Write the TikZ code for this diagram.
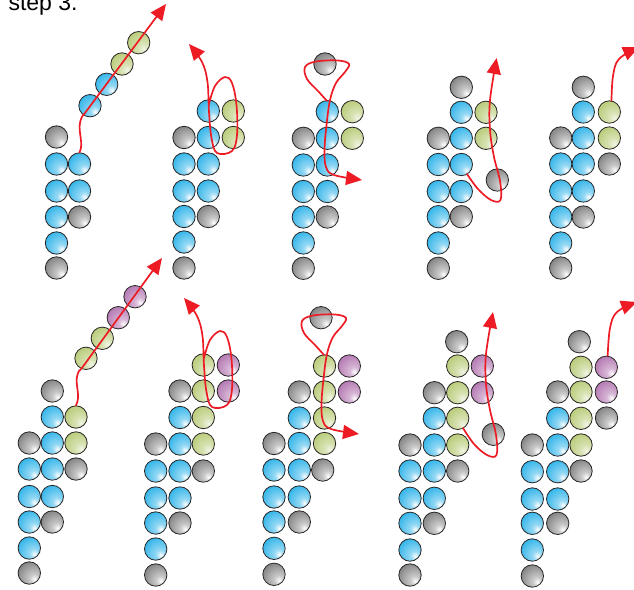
\documentclass[tikz,border=0pt]{standalone}
\usepackage{fontspec}
\setmainfont{Liberation Sans}
\usetikzlibrary{arrows.meta}
\definecolor{bBlue}{HTML}{12A9E6}
\definecolor{bGray}{HTML}{4A4A4A}
\definecolor{bGreen}{HTML}{A6BE55}
\definecolor{bPurple}{HTML}{9A4A98}
\definecolor{bOut}{HTML}{2A2626}
\definecolor{tRed}{HTML}{ED1C24}
\pgfdeclareradialshading{beadblue}{\pgfpoint{12bp}{-14bp}}{color(0bp)=(white); color(10bp)=(white!55!bBlue); color(38bp)=(bBlue!90!white); color(60bp)=(bBlue); color(80bp)=(bBlue)}
\pgfdeclareradialshading{beadgray}{\pgfpoint{12bp}{-14bp}}{color(0bp)=(white); color(10bp)=(white!70!bGray); color(40bp)=(bGray!75!white); color(62bp)=(bGray); color(80bp)=(bGray)}
\pgfdeclareradialshading{beadgreen}{\pgfpoint{12bp}{-14bp}}{color(0bp)=(white!85!bGreen); color(12bp)=(white!55!bGreen); color(40bp)=(bGreen!85!white); color(62bp)=(bGreen); color(80bp)=(bGreen)}
\pgfdeclareradialshading{beadpurple}{\pgfpoint{12bp}{-14bp}}{color(0bp)=(white); color(10bp)=(white!60!bPurple); color(40bp)=(bPurple!80!white); color(62bp)=(bPurple); color(80bp)=(bPurple)}
\tikzset{
  bead/.style={circle, minimum size=22.4pt, inner sep=0pt, draw=bOut, line width=0.8pt, shade},
  bb/.style={bead, shading=beadblue},
  bg/.style={bead, shading=beadgray},
  bn/.style={bead, shading=beadgreen},
  bp/.style={bead, shading=beadpurple},
  thread/.style={draw=tRed, line width=1.7pt, line cap=round, line join=round, -{Triangle[length=16pt,width=14pt]}},
}
\begin{document}
\begin{tikzpicture}[x=1pt,y=-1pt]
\useasboundingbox (0,0) rectangle (634,589);
\node[anchor=base west, font=\fontsize{23}{23}\selectfont] (title) at (5,10.5) {step 3.};

% ---------- panel 1 ----------
\node[bg] (a1) at (56.5,137) {};
\node[bb] (a2) at (56.5,164) {};
\node[bb] (a3) at (79.5,164) {};
\node[bb] (a4) at (56.5,191) {};
\node[bb] (a5) at (79.5,191) {};
\node[bb] (a6) at (56.5,217) {};
\node[bg] (a7) at (79.5,217) {};
\node[bb] (a8) at (56.5,243) {};
\node[bg] (a9) at (56.5,268) {};
\node[bb] (a10) at (90,105.7) {};
\node[bb] (a11) at (106.7,84.3) {};
\node[bn] (a12) at (122,64) {};
\node[bn] (a13) at (138.7,42.7) {};
\draw[thread] (a3.north) .. controls (84,144) and (78,132) .. (80,123) .. controls (81,118) and (82,116) .. (85,113) -- (166,4);

% ---------- panel 2 ----------
\node[bb] (b1) at (208.3,111) {};
\node[bn] (b2) at (233.3,111) {};
\node[bg] (b3) at (184,137.5) {};
\node[bb] (b4) at (208.3,137.5) {};
\node[bn] (b5) at (233.3,137.5) {};
\node[bb] (b6) at (184,164) {};
\node[bb] (b7) at (208.3,164) {};
\node[bb] (b8) at (184,191) {};
\node[bb] (b9) at (208.3,191) {};
\node[bb] (b10) at (184,216.5) {};
\node[bg] (b11) at (208.3,216.5) {};
\node[bb] (b12) at (184,242) {};
\node[bg] (b13) at (184,268) {};
\draw[thread] plot[smooth, tension=0.6] coordinates {(209,104) (215,86) (225,77) (232,83) (236.5,105) (237,135) (232,151) (217,153) (211.5,138) (209,112) (207.5,82) (202,62) (189,44)};

% ---------- panel 3 ----------
\node[bg] (c1) at (325,64) {};
\node[bb] (c2) at (327.3,111.7) {};
\node[bn] (c3) at (352.3,111.7) {};
\node[bg] (c4) at (303.3,138.3) {};
\node[bb] (c5) at (327.3,138.3) {};
\node[bn] (c6) at (352.3,138.3) {};
\node[bb] (c7) at (303.3,165) {};
\node[bb] (c8) at (327.3,165) {};
\node[bb] (c9) at (303.3,191.5) {};
\node[bb] (c10) at (327.3,191.5) {};
\node[bb] (c11) at (303.3,217) {};
\node[bg] (c12) at (327.3,217) {};
\node[bb] (c13) at (303.3,243) {};
\node[bg] (c14) at (303.3,268.3) {};
\draw[thread] plot[smooth, tension=0.6] coordinates {(327,101) (318,91) (307,79) (305,67) (316,61.5) (338,60.5) (349,64) (345,72) (336,83) (330,100) (326.5,125) (324.5,150) (326,167) (334,175) (362,180)};

% ---------- panel 4 ----------
\node[bg] (d1) at (461.3,87.3) {};
\node[bb] (d2) at (461.3,112.3) {};
\node[bn] (d3) at (486,112.3) {};
\node[bg] (d4) at (438.3,138.3) {};
\node[bb] (d5) at (461.3,138.3) {};
\node[bn] (d6) at (486,138.3) {};
\node[bb] (d7) at (438.3,164.5) {};
\node[bb] (d8) at (461.3,164.5) {};
\node[bb] (d9) at (438.3,191.5) {};
\node[bb] (d10) at (461.3,191.5) {};
\node[bg] (d11) at (497.3,180) {};
\node[bb] (d12) at (438.3,216.7) {};
\node[bg] (d13) at (461.3,216.7) {};
\node[bb] (d14) at (438.3,243) {};
\node[bg] (d15) at (438.3,268.3) {};
\draw[thread] plot[smooth, tension=0.6] coordinates {(467,174) (478,189) (491,200) (500.5,200) (500,181) (494,157) (490,130) (490,100) (496.7,58)};

% ---------- panel 5 ----------
\node[bg] (e1) at (583.3,87.3) {};
\node[bb] (e2) at (583.3,112) {};
\node[bn] (e3) at (609.3,112) {};
\node[bg] (e4) at (560.7,138) {};
\node[bb] (e5) at (583.3,138) {};
\node[bn] (e6) at (609.3,138) {};
\node[bb] (e7) at (560.7,164) {};
\node[bb] (e8) at (583.3,164) {};
\node[bg] (e9) at (609.3,164) {};
\node[bb] (e10) at (560.7,191) {};
\node[bb] (e11) at (583.3,191) {};
\node[bb] (e12) at (560.7,217) {};
\node[bg] (e13) at (583.3,217) {};
\node[bb] (e14) at (560.7,243) {};
\node[bg] (e15) at (560.7,268) {};
\draw[thread] plot[smooth, tension=0.6] coordinates {(611.5,100.5) (613,76) (619,59) (639,47)};

% ---------- panel 6 ----------
\node[bn] (f1) at (86,358.3) {};
\node[bn] (f2) at (102.3,338.3) {};
\node[bp] (f3) at (118.3,317.7) {};
\node[bp] (f4) at (135,296.7) {};
\node[bg] (f5) at (52.3,391) {};
\node[bb] (f6) at (52.3,417) {};
\node[bn] (f7) at (76,417) {};
\node[bg] (f8) at (29.3,443) {};
\node[bb] (f9) at (52.3,443) {};
\node[bn] (f10) at (76,443) {};
\node[bb] (f11) at (29.3,469) {};
\node[bb] (f12) at (52.3,469) {};
\node[bg] (f13) at (76,469) {};
\node[bb] (f14) at (29.3,496.5) {};
\node[bb] (f15) at (52.3,496.5) {};
\node[bb] (f16) at (29.3,522) {};
\node[bg] (f17) at (52.3,522) {};
\node[bb] (f18) at (29.3,548) {};
\node[bg] (f19) at (29.3,573) {};
\draw[thread] (f7.north) .. controls (81,396) and (75,384) .. (77,377) .. controls (78,372) and (79,370) .. (81.7,368.3) -- (162,258);

% ---------- panel 7 ----------
\node[bn] (g1) at (203.3,365) {};
\node[bp] (g2) at (228.3,365) {};
\node[bg] (g3) at (180,391) {};
\node[bn] (g4) at (203.3,391) {};
\node[bp] (g5) at (228.3,391) {};
\node[bb] (g6) at (180,417.5) {};
\node[bn] (g7) at (203.3,417.5) {};
\node[bg] (g8) at (155.7,444) {};
\node[bb] (g9) at (180,444) {};
\node[bn] (g10) at (203.3,444) {};
\node[bb] (g11) at (155.7,471) {};
\node[bb] (g12) at (180,471) {};
\node[bg] (g13) at (203.3,471) {};
\node[bb] (g14) at (155.7,498) {};
\node[bb] (g15) at (180,498) {};
\node[bb] (g16) at (155.7,523) {};
\node[bg] (g17) at (180,523) {};
\node[bb] (g18) at (155.7,549) {};
\node[bg] (g19) at (155.7,575) {};
\draw[thread] plot[smooth, tension=0.6] coordinates {(204,358) (210,340) (220,331) (227,337) (231.5,359) (232,389) (227,405) (212,407) (206.5,392) (204,366) (202.5,336) (197,316) (184,298)};

% ---------- panel 8 ----------
\node[bg] (h1) at (321,317.7) {};
\node[bn] (h2) at (324.5,366) {};
\node[bp] (h3) at (349.3,366) {};
\node[bg] (h4) at (299.3,392) {};
\node[bn] (h5) at (324.5,392) {};
\node[bp] (h6) at (349.3,392) {};
\node[bb] (h7) at (299.3,418) {};
\node[bn] (h8) at (324.5,418) {};
\node[bg] (h9) at (274,443.5) {};
\node[bb] (h10) at (299.3,443.5) {};
\node[bn] (h11) at (324.5,443.5) {};
\node[bb] (h12) at (274,470) {};
\node[bb] (h13) at (299.3,470) {};
\node[bg] (h14) at (322.7,470) {};
\node[bb] (h15) at (274,497) {};
\node[bb] (h16) at (299.3,497) {};
\node[bb] (h17) at (274,522) {};
\node[bg] (h18) at (299.3,522) {};
\node[bb] (h19) at (274,548.3) {};
\node[bg] (h20) at (274,574.3) {};
\draw[thread] plot[smooth, tension=0.6] coordinates {(324,355) (315,345) (304,333) (302,321) (313,315.5) (335,314.5) (346,318) (342,326) (333,337) (327,354) (323.5,379) (321.5,404) (323,421) (331,429) (359,434)};

% ---------- panel 9 ----------
\node[bg] (i1) at (456.7,341.7) {};
\node[bn] (i2) at (457.7,366) {};
\node[bp] (i3) at (482.3,366) {};
\node[bg] (i4) at (434.3,392.7) {};
\node[bn] (i5) at (457.7,392.7) {};
\node[bp] (i6) at (482.3,392.7) {};
\node[bb] (i7) at (434.3,418.3) {};
\node[bn] (i8) at (457.7,418.3) {};
\node[bg] (i9) at (493.3,434.3) {};
\node[bg] (i10) at (410,445) {};
\node[bb] (i11) at (434.3,445) {};
\node[bn] (i12) at (457.7,445) {};
\node[bb] (i13) at (410,471) {};
\node[bb] (i14) at (434.3,471) {};
\node[bg] (i15) at (457.7,471) {};
\node[bb] (i16) at (410,498.3) {};
\node[bb] (i17) at (434.3,498.3) {};
\node[bb] (i18) at (410,523.3) {};
\node[bg] (i19) at (434.3,523.3) {};
\node[bb] (i20) at (410,550) {};
\node[bg] (i21) at (410,575) {};
\draw[thread] plot[smooth, tension=0.6] coordinates {(463,428) (474,444) (487,455) (496.5,455) (496,435) (490,410) (486,384) (486,354) (493,312)};

% ---------- panel 10 ----------
\node[bg] (j1) at (579.3,341.7) {};
\node[bn] (j2) at (581,367.3) {};
\node[bp] (j3) at (606.3,367.3) {};
\node[bg] (j4) at (557.7,392) {};
\node[bn] (j5) at (581,392) {};
\node[bp] (j6) at (606.3,392) {};
\node[bb] (j7) at (557.7,418.3) {};
\node[bn] (j8) at (581,418.3) {};
\node[bg] (j9) at (606.5,418) {};
\node[bg] (j10) at (532.3,445) {};
\node[bb] (j11) at (557.7,445) {};
\node[bn] (j12) at (581,445) {};
\node[bb] (j13) at (532.3,471.7) {};
\node[bb] (j14) at (557.7,471.7) {};
\node[bg] (j15) at (581,471) {};
\node[bb] (j16) at (532.3,499) {};
\node[bb] (j17) at (557.7,499) {};
\node[bb] (j18) at (532.3,523.3) {};
\node[bg] (j19) at (557.7,523.3) {};
\node[bb] (j20) at (532.3,550) {};
\node[bg] (j21) at (532.3,576) {};
\draw[thread] plot[smooth, tension=0.6] coordinates {(607.7,355.5) (610,328) (617,312) (637,302)};
\end{tikzpicture}
\end{document}
